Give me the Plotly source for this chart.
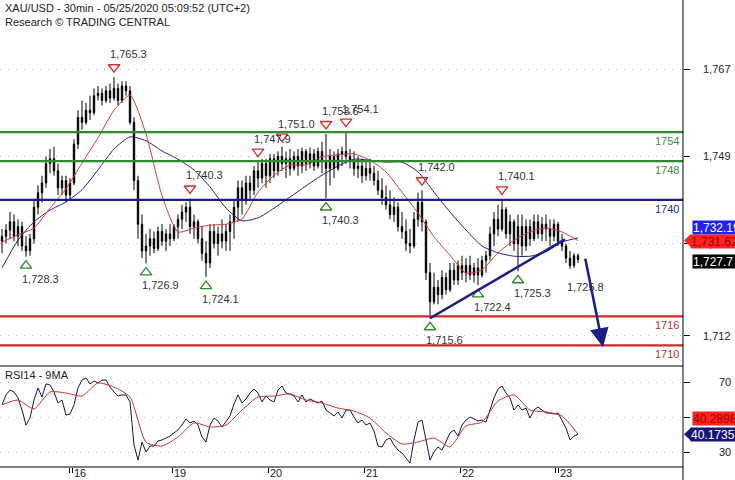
import plotly.graph_objects as go

TITLE = "XAU/USD - 30min - 05/25/2020 05:09:52 (UTC+2)"
SUBTITLE = "Research © TRADING CENTRAL"
RSI_TITLE = "RSI14 - 9MA"

opens = [1731.5, 1732.5, 1733.8, 1735.5, 1732.5, 1734.5, 1730.5, 1729.5, 1732, 1738.5,
         1741.5, 1743.5, 1747.5, 1748.5, 1746, 1742.5, 1744, 1741, 1743.5, 1751.5,
         1757, 1756, 1758.5, 1758, 1761.5, 1762, 1760.5, 1762.5, 1761, 1763,
         1760.5, 1763.5, 1762.5, 1756, 1744, 1735, 1729.5, 1730.5, 1732, 1730,
         1733.5, 1731.5, 1733, 1732, 1734.5, 1736, 1737.5, 1738.5, 1734.5, 1735.5,
         1732, 1729, 1727, 1733.5, 1731, 1733, 1731.5, 1733.5, 1735.5, 1738.5,
         1742.5, 1740, 1743.5, 1742, 1746, 1744.5, 1747.5, 1745, 1748.5, 1746,
         1749, 1747.5, 1748.5, 1746.5, 1749, 1747, 1750, 1747.5, 1749.5, 1747,
         1750, 1748, 1746.5, 1749, 1746.5, 1749.5, 1750, 1749, 1748, 1746.5,
         1747, 1745, 1746.5, 1745.5, 1744, 1742, 1740.5, 1739, 1737, 1738.5,
         1734.5, 1733.5, 1731, 1730.5, 1736, 1739.5, 1735.5, 1725, 1719, 1722,
         1720.5, 1724, 1721.5, 1725.5, 1723.5, 1726.5, 1725, 1726.5, 1724.5, 1726,
         1724.5, 1727.5, 1728.5, 1733, 1736, 1734, 1738, 1733, 1735.5, 1731,
         1734.5, 1730.5, 1734.5, 1732, 1735.5, 1733, 1735, 1734, 1732.5, 1735,
         1731.5, 1730.5, 1728, 1726.5, 1728.5]
highs = [1734, 1735, 1737.5, 1737, 1736, 1735.5, 1732.5, 1733, 1740, 1743,
         1745, 1749, 1750.5, 1751, 1747.5, 1745, 1745, 1744.5, 1752.5, 1758.5,
         1760.5, 1760, 1761.5, 1763, 1763.5, 1763, 1763.5, 1764, 1765.3, 1764,
         1764.5, 1764.5, 1763.5, 1757, 1745, 1737, 1733, 1734, 1733.5, 1734.5,
         1735, 1734, 1735, 1735, 1737, 1739, 1739.5, 1740.3, 1737, 1736,
         1734.5, 1731.5, 1735, 1735, 1734.5, 1736, 1735, 1737, 1740, 1744,
         1744, 1745, 1745, 1747, 1747.9, 1748.5, 1748.5, 1749.5, 1749.5, 1750,
         1751, 1750, 1750.5, 1750, 1750.5, 1750.8, 1750.5, 1750.8, 1750.5, 1750.8,
         1752, 1753.6, 1750.5, 1750, 1750.5, 1751, 1754.1, 1750.5, 1750, 1749,
         1748.5, 1748, 1748.5, 1747, 1746, 1744.5, 1743, 1742, 1740.5, 1739.5,
         1737.5, 1736, 1734, 1737.5, 1741.5, 1742, 1736, 1727, 1725, 1723.5,
         1725.5, 1725, 1727, 1727, 1727.5, 1728.5, 1728, 1728.5, 1727, 1728,
         1728.5, 1729.5, 1734.5, 1737.5, 1739, 1740.1, 1738.5, 1737, 1736, 1737,
         1737, 1736, 1736, 1737, 1737, 1736.5, 1737, 1736, 1736, 1735.5,
         1733, 1731, 1729.5, 1729, 1729]
lows = [1729, 1731, 1732, 1731.5, 1730.5, 1729.5, 1728.3, 1728.5, 1731, 1737,
        1739.5, 1742.5, 1745.5, 1745, 1741, 1741, 1739.5, 1740, 1743, 1750.5,
        1754.5, 1755.5, 1756.5, 1757.5, 1760.5, 1759.5, 1760, 1760, 1760.5, 1759.5,
        1760, 1761.5, 1755.5, 1742, 1732, 1728, 1726.9, 1728.5, 1729, 1729.5,
        1730.5, 1729.5, 1730.5, 1731.5, 1732, 1734, 1735.5, 1733, 1732, 1731,
        1727.5, 1724.1, 1726, 1730, 1728.5, 1730, 1729.5, 1729.5, 1732, 1735.5,
        1737, 1739, 1740, 1741, 1742.5, 1743.5, 1742.5, 1743.5, 1744.5, 1745,
        1746, 1744.5, 1745, 1746, 1745, 1745.5, 1746, 1746.5, 1746, 1746.5,
        1745.5, 1740.3, 1743, 1744.5, 1746, 1747, 1747.5, 1746.5, 1745, 1744.5,
        1743.5, 1744, 1744, 1743, 1741, 1739, 1738, 1736, 1735.5, 1733.5,
        1732, 1729.5, 1729, 1730, 1734.5, 1733.5, 1723.5, 1715.6, 1718.5, 1718.5,
        1719.5, 1720.5, 1721, 1722.5, 1722.5, 1723.5, 1723, 1723.5, 1723, 1722.4,
        1724, 1725, 1727.5, 1730.5, 1732.5, 1733.5, 1732, 1730.5, 1729.5, 1725.3,
        1728.5, 1729.5, 1730.5, 1731.5, 1732, 1731.5, 1731.5, 1730.5, 1731.5, 1730.5,
        1729.5, 1727, 1725.8, 1726, 1727]
closes = [1732.5, 1733.8, 1735.5, 1732.5, 1734.5, 1730.5, 1729.5, 1732, 1738.5, 1741.5,
          1743.5, 1747.5, 1748.5, 1746, 1742.5, 1744, 1741, 1743.5, 1751.5, 1757,
          1756, 1758.5, 1758, 1761.5, 1762, 1760.5, 1762.5, 1761, 1763, 1760.5,
          1763.5, 1762.5, 1756, 1744, 1735, 1729.5, 1730.5, 1732, 1730, 1733.5,
          1731.5, 1733, 1732, 1734.5, 1736, 1737.5, 1738.5, 1734.5, 1735.5, 1732,
          1729, 1727, 1733.5, 1731, 1733, 1731.5, 1733.5, 1735.5, 1738.5, 1742.5,
          1740, 1743.5, 1742, 1746, 1744.5, 1747.5, 1745, 1748.5, 1746, 1749,
          1747.5, 1748.5, 1746.5, 1749, 1747, 1750, 1747.5, 1749.5, 1747, 1750,
          1748, 1746.5, 1749, 1746.5, 1749.5, 1750, 1749, 1748, 1746.5, 1747,
          1745, 1746.5, 1745.5, 1744, 1742, 1740.5, 1739, 1737, 1738.5, 1734.5,
          1733.5, 1731, 1730.5, 1736, 1739.5, 1735.5, 1725, 1719, 1722, 1720.5,
          1724, 1721.5, 1725.5, 1723.5, 1726.5, 1725, 1726.5, 1724.5, 1726, 1724.5,
          1727.5, 1728.5, 1733, 1736, 1734, 1738, 1733, 1735.5, 1731, 1734.5,
          1730.5, 1734.5, 1732, 1735.5, 1733, 1735, 1734, 1732.5, 1735, 1731.5,
          1730.5, 1728, 1726.5, 1728.5, 1727.7]

MA_STEP = 4
red_ma = [1731.3, 1732.8, 1734.2, 1738.3, 1742.3, 1747.6, 1752.8, 1758.5, 1761.6, 1753.6,
          1740.9, 1733.4, 1734.2, 1734.8, 1735.0, 1736.1, 1741.6, 1745.1, 1747.2, 1747.2,
          1748.9, 1749.3, 1749.5, 1748.2, 1745.8, 1741.6, 1737.3, 1732.4, 1728.6, 1724.9,
          1725.6, 1729.1, 1731.7, 1733.4, 1734.2, 1733.4, 1731.62]
blue_ma = [1726.0, 1731.7, 1735.5, 1737.9, 1739.6, 1742.1, 1746.2, 1750.5, 1753.0, 1752.2,
           1750.1, 1748.4, 1746.2, 1742.7, 1738.3, 1735.7, 1736.3, 1738.3, 1740.6, 1742.9,
           1745.1, 1747.0, 1748.4, 1748.2, 1747.8, 1747.8, 1745.8, 1741.6, 1737.5, 1733.8,
           1730.5, 1729.1, 1728.4, 1728.4, 1729.3, 1731.3, 1732.19]

rsi = [56.9, 62.6, 65.4, 64.3, 60.9, 54.0, 45.4, 49.4, 59.7, 66.6,
       61.4, 68.9, 68.3, 64.3, 58.0, 59.7, 51.1, 51.7, 56.9, 66.6,
       71.1, 72.3, 68.9, 70.6, 69.4, 71.1, 71.1, 67.1, 64.3, 62.0,
       62.6, 62.6, 58.6, 34.0, 25.4, 35.7, 30.0, 33.4, 33.4, 36.3,
       36.9, 38.0, 39.1, 40.9, 42.6, 45.4, 48.9, 46.6, 47.7, 45.4,
       38.6, 35.7, 45.4, 49.4, 47.7, 44.3, 47.7, 50.6, 57.4, 62.6,
       58.0, 60.3, 63.7, 66.0, 63.7, 58.6, 62.0, 59.7, 58.6, 65.4,
       67.7, 63.7, 63.1, 62.0, 58.6, 62.6, 58.6, 60.3, 59.1, 58.0,
       59.1, 54.0, 52.3, 50.6, 52.9, 49.4, 54.0, 54.0, 50.0, 46.6,
       48.3, 45.4, 46.6, 42.0, 33.4, 32.9, 36.9, 38.0, 34.0, 31.1,
       29.4, 26.6, 23.7, 36.9, 47.1, 48.3, 36.9, 25.4, 30.0, 32.9,
       31.1, 36.3, 40.9, 42.6, 39.1, 45.4, 48.3, 50.0, 48.9, 47.7,
       48.3, 47.1, 54.0, 60.9, 66.0, 67.7, 63.7, 60.9, 54.0, 56.9,
       54.0, 55.1, 49.4, 54.0, 55.7, 54.0, 52.3, 52.3, 51.7, 52.3,
       48.3, 43.7, 36.9, 39.1, 40.1735]
rsi_ma = [56.9, 59.7, 54.6, 64.3, 63.7, 62.0, 69.4, 67.1, 61.4, 35.7,
          33.4, 38.6, 46.6, 44.3, 45.4, 54.0, 61.4, 62.0, 63.1, 59.7,
          58.0, 55.1, 53.4, 49.4, 40.9, 34.6, 35.7, 38.0, 32.9, 44.9,
          47.1, 59.1, 62.6, 54.0, 52.9, 50.6, 40.2898]

day_labels = ["16", "19", "20", "21", "22", "23"]
day_ticks = [17.5, 42.5, 66.5, 90.5, 114.5, 139.0]
week_start_days = ["16", "23"]

price_ticks = [1767, 1749, 1731, 1712]
price_tick_text = ["1,767", "1,749", "1,731", "1,712"]
rsi_ticks = [70, 50, 30]
rsi_tick_text = ["70", "50", "30"]

levels = [1754, 1748, 1740, 1716, 1710]
level_kinds = ["res", "res", "pivot", "sup", "sup"]

high_mark_bars = [28, 47, 64, 70, 81, 86, 105, 125]
low_mark_bars = [6, 36, 51, 81, 107, 119, 129]
pending_low_bar = 142

trend_start = (107, 1715.6)
trend_end = (140.75, 1731.9)
arrow_start = (145.75, 1728.2)
arrow_end = (150.25, 1709.7)

# ---------------- styling / layout -----------------
W, H = 735, 480
ML, MR, MT, MB = 0, 52, 0, 13
PW, PH = W - ML - MR, H - MT - MB
SPLIT_PX = 366
split = (PH - SPLIT_PX) / PH
FONT = "Arial, Liberation Sans, sans-serif"
GREEN = "#2f8a2f"
NAVY = "#1c1c88"
RED = "#cc2b2b"
lvl_color = {"res": GREEN, "pivot": NAVY, "sup": RED}
lvl_text = {"res": "#3c8c3c", "pivot": "#2a2a8a", "sup": "#b03535"}

def pxx(x):
    return x / PW

def pxy(y):
    return (PH - y) / PH

bars = list(range(len(closes)))
ma_bars = [i * MA_STEP for i in range(len(red_ma))]
ma_bars[-1] = bars[-1]

fig = go.Figure()
fig.add_trace(go.Candlestick(
    x=bars, open=opens, high=highs, low=lows, close=closes,
    increasing=dict(line=dict(color="black", width=1), fillcolor="black"),
    decreasing=dict(line=dict(color="black", width=1), fillcolor="black"),
    whiskerwidth=0, xaxis="x", yaxis="y", hoverinfo="skip"))
fig.add_trace(go.Scatter(x=ma_bars, y=blue_ma, mode="lines",
                         line=dict(color=NAVY, width=1, shape="spline", smoothing=0.6),
                         xaxis="x", yaxis="y"))
fig.add_trace(go.Scatter(x=ma_bars, y=red_ma, mode="lines",
                         line=dict(color="#d03a3a", width=1, shape="spline", smoothing=0.6),
                         xaxis="x", yaxis="y"))

# swing markers
HI_OFF = 10 / 4.8545
LO_OFF = 9 / 4.8545
fig.add_trace(go.Scatter(
    x=high_mark_bars, y=[highs[b] + HI_OFF for b in high_mark_bars], mode="markers",
    marker=dict(symbol="triangle-down-open", size=10, color="#d03030", line=dict(width=1.3)),
    xaxis="x", yaxis="y"))
fig.add_trace(go.Scatter(
    x=low_mark_bars, y=[lows[b] - LO_OFF for b in low_mark_bars], mode="markers",
    marker=dict(symbol="triangle-up-open", size=10, color="#2e8b2e", line=dict(width=1.3)),
    xaxis="x", yaxis="y"))

# RSI
fig.add_trace(go.Scatter(x=bars, y=rsi, mode="lines", line=dict(color="#14144a", width=1),
                         xaxis="x", yaxis="y2"))
fig.add_trace(go.Scatter(x=ma_bars, y=rsi_ma, mode="lines",
                         line=dict(color="#c83030", width=1, shape="spline", smoothing=0.6),
                         xaxis="x", yaxis="y2"))

ann = []
txt = dict(family=FONT, size=11, color="#222222")
ann.append(dict(xref="paper", yref="paper", x=pxx(3), y=pxy(8), xanchor="left", yanchor="middle",
                text=TITLE, showarrow=False, font=txt))
ann.append(dict(xref="paper", yref="paper", x=pxx(3), y=pxy(22), xanchor="left", yanchor="middle",
                text=SUBTITLE, showarrow=False, font=txt))
ann.append(dict(xref="paper", yref="paper", x=pxx(3), y=pxy(375), xanchor="left", yanchor="middle",
                text=RSI_TITLE, showarrow=False, font=txt))

for b in high_mark_bars:
    ann.append(dict(x=b, y=highs[b], xref="x", yref="y", text=f"{highs[b]:,.1f}", showarrow=False,
                    xanchor="left", yanchor="middle", xshift=-6, yshift=23, font=dict(family=FONT, size=11, color="#333333")))
for b in low_mark_bars:
    ann.append(dict(x=b, y=lows[b], xref="x", yref="y", text=f"{lows[b]:,.1f}", showarrow=False,
                    xanchor="left", yanchor="middle", xshift=-6, yshift=-22, font=dict(family=FONT, size=11, color="#333333")))
ann.append(dict(x=pending_low_bar, y=lows[pending_low_bar], xref="x", yref="y",
                text=f"{lows[pending_low_bar]:,.1f}", showarrow=False, xanchor="left", yanchor="middle",
                xshift=-5, yshift=-18, font=dict(family=FONT, size=11, color="#333333")))

shapes = []
for lv, kind in zip(levels, level_kinds):
    shapes.append(dict(type="line", xref="paper", yref="y", x0=0, x1=1, y0=lv, y1=lv,
                       line=dict(color=lvl_color[kind], width=2.2)))
    ann.append(dict(xref="paper", yref="y", x=pxx(681), y=lv, xanchor="right", yanchor="middle",
                    yshift=-9, text=str(lv), showarrow=False,
                    font=dict(family=FONT, size=11, color=lvl_text[kind])))

shapes.append(dict(type="line", xref="x", yref="y", x0=trend_start[0], y0=trend_start[1],
                   x1=trend_end[0], y1=trend_end[1], line=dict(color=NAVY, width=2.5)))
ann.append(dict(x=arrow_end[0], y=arrow_end[1], ax=arrow_start[0], ay=arrow_start[1],
                xref="x", yref="y", axref="x", ayref="y", text="", showarrow=True,
                arrowhead=2, arrowsize=1.5, arrowwidth=2.5, arrowcolor=NAVY))

# frame lines
shapes.append(dict(type="line", xref="paper", yref="paper", x0=1, x1=1, y0=-MB / PH, y1=1,
                   line=dict(color="black", width=1)))
shapes.append(dict(type="line", xref="paper", yref="paper", x0=0, x1=1, y0=split, y1=split,
                   line=dict(color="black", width=1.2)))
shapes.append(dict(type="line", xref="paper", yref="paper", x0=0, x1=1, y0=0, y1=0,
                   line=dict(color="black", width=1.2)))

# axis tick labels
for v, t in zip(price_ticks, price_tick_text):
    ann.append(dict(xref="paper", yref="y", x=pxx(733), y=v, xanchor="right", yanchor="middle",
                    text=t, showarrow=False, font=dict(family=FONT, size=11, color="#222222")))
for v, t in zip(rsi_ticks, rsi_tick_text):
    ann.append(dict(xref="paper", yref="y2", x=pxx(733), y=v, xanchor="right", yanchor="middle",
                    text=t, showarrow=False, font=dict(family=FONT, size=11, color="#222222")))
for d, p in zip(day_labels, day_ticks):
    ann.append(dict(xref="x", yref="paper", x=p, y=0, xanchor="left", yanchor="top", xshift=1, yshift=1,
                    text=d, showarrow=False, borderpad=0, font=dict(family=FONT, size=11, color="#222222")))

# value boxes on the right
def value_box(text, yref, val, yshift, bg, fg, x_left):
    ann.append(dict(xref="paper", yref=yref, x=pxx(x_left), y=val, xanchor="left", yanchor="middle",
                    yshift=yshift, text=text, showarrow=False, bgcolor=bg, borderpad=0,
                    width=W - x_left + 4, height=13, align="left",
                    font=dict(family=FONT, size=12, color=fg)))

def pointer(yref, val, scale, color):
    d = 6.5 / scale
    shapes.append(dict(type="path", xref="paper", yref=yref,
                       path=f"M {pxx(684)},{val} L {pxx(691)},{val + d} L {pxx(691)},{val - d} Z",
                       fillcolor=color, line=dict(width=0)))

value_box(f"{blue_ma[-1]:,.2f}", "y", blue_ma[-1], 10, "#2222ee", "white", 692)
pointer("y", red_ma[-1], 4.8545, "#ff2222")
value_box(f"{red_ma[-1]:,.2f}", "y", red_ma[-1], -1, "#ff2222", "#9a0000", 690)
value_box(f"{closes[-1]:,.1f}", "y", closes[-1], -2, "black", "white", 692)
value_box(f"{rsi_ma[-1]:.4f}", "y2", rsi_ma[-1], 15, "#ff2222", "#9a0000", 692)
pointer("y2", rsi[-1], 1.75, "#16167a")
value_box(f"{rsi[-1]:.4f}", "y2", rsi[-1], 0, "#16167a", "white", 690)

extra_ticks = [p - 0.6 for d, p in zip(day_labels, day_ticks) if d in week_start_days]

fig.update_layout(
    width=W, height=H, autosize=False,
    margin=dict(l=ML, r=MR, t=MT, b=MB, pad=0),
    paper_bgcolor="white", plot_bgcolor="white",
    showlegend=False, boxgap=0.5,
    xaxis=dict(range=[-0.5, 170.25], anchor="y2", showgrid=False, zeroline=False,
               tickvals=day_ticks + extra_ticks, ticks="outside", ticklen=5, tickcolor="black",
               showticklabels=False, showline=False, rangeslider=dict(visible=False), fixedrange=True),
    yaxis=dict(domain=[split, 1], range=[1705.76, 1781.23], side="right", anchor="x",
               tickvals=price_ticks, ticks="outside", ticklen=6, tickcolor="black",
               showticklabels=False, showgrid=True, gridcolor="#b8b8b8", griddash="1px,7px",
               zeroline=False, showline=False),
    yaxis2=dict(domain=[0, split], range=[21.43, 79.14], side="right", anchor="x",
                tickvals=rsi_ticks, ticks="outside", ticklen=6, tickcolor="black",
                showticklabels=False, showgrid=True, gridcolor="#b8b8b8", griddash="1px,7px",
                zeroline=False, showline=False),
    annotations=ann, shapes=shapes,
)

fig.write_html("out.html", config={"displayModeBar": False},
               post_script="document.body.style.margin='0';document.body.style.padding='0';"
                           "document.body.style.overflow='hidden';")
